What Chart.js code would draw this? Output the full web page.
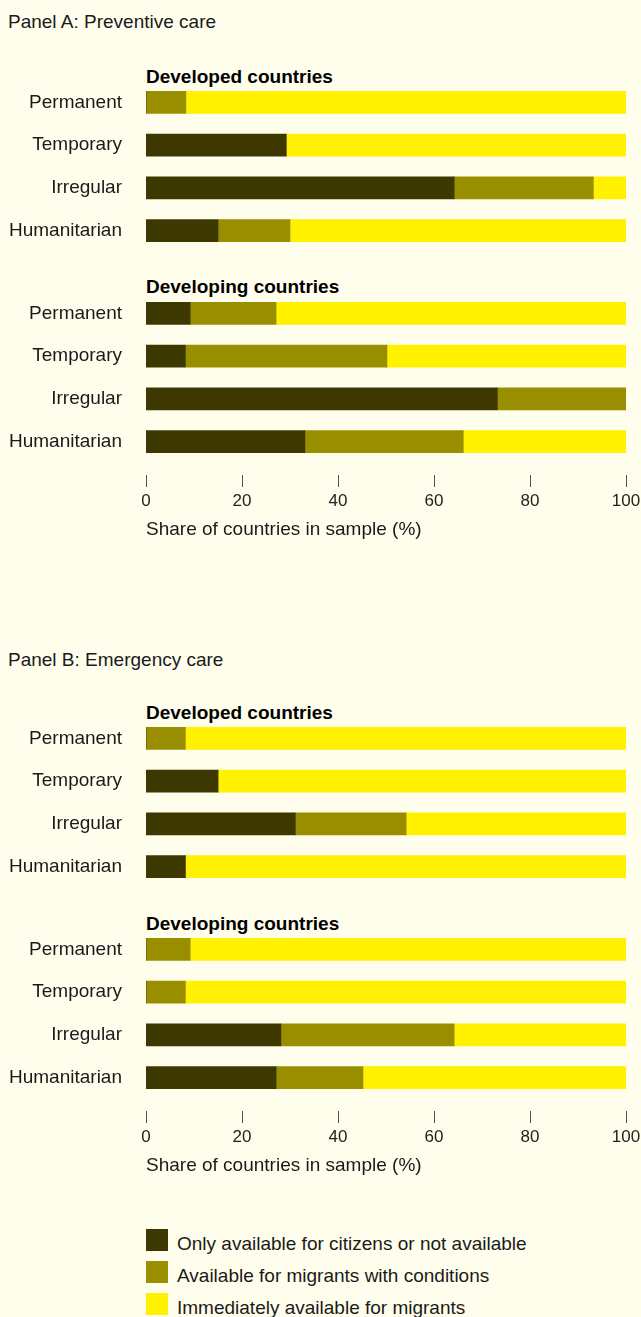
<!DOCTYPE html>
<html>
<head>
<meta charset="utf-8">
<script src="https://cdn.jsdelivr.net/npm/chart.js@4.4.1/dist/chart.umd.min.js"></script>
<style>
  html, body { margin: 0; padding: 0; background: #fffeed; }
  body { width: 641px; height: 1317px; position: relative; overflow: hidden;
         font-family: "Liberation Sans", Arial, sans-serif; color: #1a1a1a; }
  .abs { position: absolute; white-space: nowrap; }
  .panel { left: 8px; font-size: 19px; line-height: 22px; }
  .group { left: 146px; font-size: 19px; line-height: 22px; font-weight: bold; color: #000; }
  .box { position: absolute; left: 0; width: 641px; }
  canvas { display: block; }
  .swatch { position: absolute; left: 146px; width: 22px; height: 22px; }
  .ltext { position: absolute; left: 177px; font-size: 19px; line-height: 22px; white-space: nowrap; }
</style>
</head>
<body>

<div class="abs panel" style="top:11px">Panel A: Preventive care</div>
<div class="abs group" style="top:66px">Developed countries</div>
<div class="abs group" style="top:276px">Developing countries</div>

<div class="abs panel" style="top:649px">Panel B: Emergency care</div>
<div class="abs group" style="top:702px">Developed countries</div>
<div class="abs group" style="top:913px">Developing countries</div>

<div class="box" style="top:81px"><canvas id="prevDev" width="641" height="171"></canvas></div>
<div class="box" style="top:292px"><canvas id="prevDevg" width="641" height="249"></canvas></div>
<div class="box" style="top:717px"><canvas id="emDev" width="641" height="171"></canvas></div>
<div class="box" style="top:928px"><canvas id="emDevg" width="641" height="249"></canvas></div>

<div id="legend"></div>

<script>
const CATEGORIES = ["Permanent", "Temporary", "Irregular", "Humanitarian"];
const SERIES = [
  "Only available for citizens or not available",
  "Available for migrants with conditions",
  "Immediately available for migrants"
];
const COLORS = ["#3d3800", "#998d00", "#fff100"];
const X_TICKS = [0, 20, 40, 60, 80, 100];
const X_TITLE = "Share of countries in sample (%)";

// Panel A: preventive care
const PREV_DEV_ONLY = [0, 29.2, 64.2, 15];
const PREV_DEV_COND = [8.3, 0, 29, 15];
const PREV_DEV_IMM  = [91.7, 70.8, 6.8, 70];

const PREV_DEVG_ONLY = [9.2, 8.2, 73.2, 33.1];
const PREV_DEVG_COND = [17.9, 42, 26.8, 33];
const PREV_DEVG_IMM  = [72.9, 49.8, 0, 33.9];

// Panel B: emergency care
const EM_DEV_ONLY = [0, 15, 31.1, 8.2];
const EM_DEV_COND = [8.2, 0, 23.1, 0];
const EM_DEV_IMM  = [91.8, 85, 45.8, 91.8];

const EM_DEVG_ONLY = [0, 0, 28.1, 27.1];
const EM_DEVG_COND = [9.2, 8.2, 36.1, 18.1];
const EM_DEVG_IMM  = [90.8, 91.8, 35.8, 54.8];

const FONT = "'Liberation Sans', Arial, sans-serif";

// small tick marks sitting below the bars
const tickMarks = {
  id: "tickMarks",
  afterDraw(chart) {
    const x = chart.scales.x;
    if (!x.options.display) return;
    const ctx = chart.ctx;
    const y0 = chart.chartArea.bottom + 12;
    ctx.save();
    ctx.strokeStyle = "#555";
    ctx.lineWidth = 1;
    x.ticks.forEach(t => {
      const px = Math.round(x.getPixelForValue(t.value)) + 0.5;
      ctx.beginPath();
      ctx.moveTo(px, y0);
      ctx.lineTo(px, y0 + 12);
      ctx.stroke();
    });
    ctx.restore();
  }
};

function makeChart(id, only, cond, imm, showAxis) {
  const values = [only, cond, imm];
  return new Chart(document.getElementById(id), {
    type: "bar",
    data: {
      labels: CATEGORIES,
      datasets: SERIES.map((s, i) => ({
        label: s,
        data: values[i],
        backgroundColor: COLORS[i],
        borderWidth: 0,
        barThickness: 22
      }))
    },
    options: {
      indexAxis: "y",
      responsive: false,
      animation: false,
      layout: { padding: { left: 0, right: 15, top: 0, bottom: 0 } },
      plugins: { legend: { display: false }, tooltip: { enabled: false } },
      scales: {
        x: {
          display: showAxis,
          stacked: true,
          min: 0,
          max: 100,
          afterBuildTicks: scale => { scale.ticks = X_TICKS.map(v => ({ value: v })); },
          grid: { display: false, drawTicks: false },
          border: { display: false },
          ticks: { padding: 28, color: "#222", font: { family: FONT, size: 17 } },
          title: {
            display: true,
            text: X_TITLE,
            align: "start",
            color: "#1a1a1a",
            padding: 0,
            font: { family: FONT, size: 19 }
          },
          afterFit: scale => {
            if (showAxis) scale.height = 78;
            scale.paddingLeft = 0;
            scale.paddingRight = 0;
            scale.paddingTop = 0;
            scale.paddingBottom = 0;
          }
        },
        y: {
          stacked: true,
          grid: { display: false, drawTicks: false },
          border: { display: false },
          ticks: { padding: 24, autoSkip: false, color: "#1a1a1a", font: { family: FONT, size: 19 } },
          afterFit: scale => {
            scale.width = 146;
            scale.paddingTop = 0;
            scale.paddingBottom = 0;
          }
        }
      }
    },
    plugins: [tickMarks]
  });
}

makeChart("prevDev", PREV_DEV_ONLY, PREV_DEV_COND, PREV_DEV_IMM, false);
makeChart("prevDevg", PREV_DEVG_ONLY, PREV_DEVG_COND, PREV_DEVG_IMM, true);
makeChart("emDev", EM_DEV_ONLY, EM_DEV_COND, EM_DEV_IMM, false);
makeChart("emDevg", EM_DEVG_ONLY, EM_DEVG_COND, EM_DEVG_IMM, true);

// legend
const legend = document.getElementById("legend");
SERIES.forEach((s, i) => {
  const top = 1229 + i * 32;
  const sw = document.createElement("div");
  sw.className = "swatch";
  sw.style.top = top + "px";
  sw.style.background = COLORS[i];
  legend.appendChild(sw);
  const t = document.createElement("div");
  t.className = "ltext";
  t.style.top = (top + 4) + "px";
  t.textContent = s;
  legend.appendChild(t);
});
</script>
</body>
</html>
